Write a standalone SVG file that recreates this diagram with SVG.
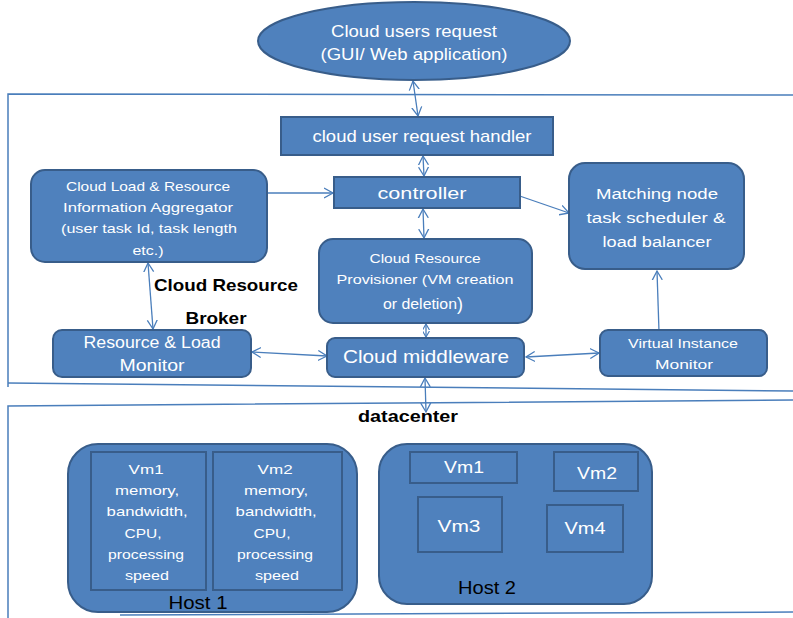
<svg xmlns="http://www.w3.org/2000/svg" width="793" height="618" viewBox="0 0 793 618">
<style>
.n{fill:#4f81bd;stroke:#385d8a;stroke-width:2}
.vm{fill:#4f81bd;stroke:#385d8a;stroke-width:2}
.t{font-family:"Liberation Sans",Arial,sans-serif;fill:#ffffff;text-anchor:middle}
.k{font-family:"Liberation Sans",Arial,sans-serif;fill:#000000;text-anchor:middle}
.b{font-weight:bold}
.c{fill:none;stroke:#4a7ebb;stroke-width:1.3}
.f{fill:none;stroke:#4a7ebb;stroke-width:1.5}
</style>
<defs>
<marker id="ah" markerUnits="userSpaceOnUse" markerWidth="12" markerHeight="12" refX="9" refY="5" orient="auto-start-reverse" viewBox="0 0 12 10">
<path d="M0,0 L9,5 L0,10" fill="none" stroke="#4a7ebb" stroke-width="1.3"/>
</marker>
<marker id="ahs" markerUnits="userSpaceOnUse" markerWidth="7" markerHeight="7" refX="6" refY="3.5" orient="auto-start-reverse" viewBox="0 0 7 7">
<path d="M0,0 L6,3.5 L0,7" fill="none" stroke="#4a7ebb" stroke-width="1.2"/>
</marker>
</defs>
<rect width="793" height="618" fill="#ffffff"/>
<g id="frames">
<path class="f" d="M8,387 L8,94 L793,95"/>
<path class="f" d="M8,383 L793,391"/>
<path class="f" d="M8,618 L8,406 L793,400"/>
<path class="f" d="M120,615 L793,612"/>
</g>
<g id="connectors">
<line class="c" x1="413" y1="81" x2="418" y2="116" marker-start="url(#ah)" marker-end="url(#ah)"/>
<line class="c" x1="423" y1="156" x2="424" y2="176" marker-start="url(#ah)" marker-end="url(#ah)"/>
<line class="c" x1="254" y1="193" x2="333" y2="193" marker-start="url(#ah)" marker-end="url(#ah)"/>
<line class="c" x1="511" y1="193" x2="569" y2="213" marker-start="url(#ah)" marker-end="url(#ah)"/>
<line class="c" x1="423" y1="209" x2="424" y2="238" marker-start="url(#ah)" marker-end="url(#ah)"/>
<line class="c" x1="426" y1="324" x2="426" y2="337" marker-start="url(#ahs)" marker-end="url(#ahs)"/>
<line class="c" x1="148" y1="263" x2="153" y2="329" marker-start="url(#ah)" marker-end="url(#ah)"/>
<line class="c" x1="252" y1="352" x2="327" y2="356" marker-start="url(#ah)" marker-end="url(#ah)"/>
<line class="c" x1="526" y1="357" x2="599" y2="353" marker-start="url(#ah)" marker-end="url(#ah)"/>
<line class="c" x1="660" y1="362" x2="657" y2="271" marker-end="url(#ah)"/>
<line class="c" x1="425" y1="378" x2="426" y2="412" marker-start="url(#ah)" marker-end="url(#ah)"/>
</g>
<g id="users">
<ellipse class="n" cx="414" cy="41" rx="156" ry="39"/>
<text class="t" x="414" y="37" font-size="16" textLength="166" lengthAdjust="spacingAndGlyphs">Cloud  users request</text>
<text class="t" x="414" y="60" font-size="16" textLength="187" lengthAdjust="spacingAndGlyphs">(GUI/ Web application)</text>
</g>
<g id="handler">
<rect class="n" x="281" y="117" width="272" height="38"/>
<text class="t" x="422" y="142" font-size="17" textLength="219" lengthAdjust="spacingAndGlyphs">cloud user request handler</text>
</g>
<g id="controller">
<rect class="n" x="334" y="177" width="186" height="31"/>
<text class="t" x="422" y="199" font-size="17" textLength="89" lengthAdjust="spacingAndGlyphs">controller</text>
</g>
<g id="aggregator">
<rect class="n" x="31" y="170" width="236" height="92" rx="14"/>
<text class="t" x="148" y="191" font-size="13.5" textLength="164" lengthAdjust="spacingAndGlyphs">Cloud Load &amp; Resource</text>
<text class="t" x="148" y="212" font-size="13.5" textLength="170" lengthAdjust="spacingAndGlyphs">Information  Aggregator</text>
<text class="t" x="149" y="233" font-size="13.5" textLength="176" lengthAdjust="spacingAndGlyphs">(user  task Id, task length</text>
<text class="t" x="148" y="255" font-size="13.5" textLength="31" lengthAdjust="spacingAndGlyphs">etc.)</text>
</g>
<g id="broker-label">
<text class="k b" x="226" y="291" font-size="17" textLength="144" lengthAdjust="spacingAndGlyphs">Cloud Resource</text>
<text class="k b" x="216" y="324" font-size="17" textLength="61" lengthAdjust="spacingAndGlyphs">Broker</text>
</g>
<g id="matching">
<rect class="n" x="569" y="163" width="175" height="106" rx="16"/>
<text class="t" x="657" y="199" font-size="15.5" textLength="122" lengthAdjust="spacingAndGlyphs">Matching node</text>
<text class="t" x="656" y="223" font-size="15.5" textLength="139" lengthAdjust="spacingAndGlyphs">task  scheduler &amp;</text>
<text class="t" x="657" y="247" font-size="15.5" textLength="109" lengthAdjust="spacingAndGlyphs">load balancer</text>
</g>
<g id="provisioner">
<rect class="n" x="319" y="239" width="213" height="84" rx="14"/>
<text class="t" x="425" y="263" font-size="13.5" textLength="111" lengthAdjust="spacingAndGlyphs">Cloud Resource</text>
<text class="t" x="425" y="284" font-size="13.5" textLength="177" lengthAdjust="spacingAndGlyphs">Provisioner (VM creation</text>
<text class="t" x="420" y="309" font-size="14" textLength="74" lengthAdjust="spacingAndGlyphs">or deletion</text>
<text class="t" x="460" y="310" font-size="18">)</text>
</g>
<g id="resource-monitor">
<rect class="n" x="53" y="330" width="198" height="47" rx="9"/>
<text class="t" x="152" y="348" font-size="16" textLength="137" lengthAdjust="spacingAndGlyphs">Resource &amp; Load</text>
<text class="t" x="152" y="371" font-size="16" textLength="65" lengthAdjust="spacingAndGlyphs">Monitor</text>
</g>
<g id="middleware">
<rect class="n" x="327" y="338" width="197" height="39" rx="8"/>
<text class="t" x="426" y="363" font-size="17.5" textLength="166" lengthAdjust="spacingAndGlyphs">Cloud middleware</text>
</g>
<g id="vim">
<rect class="n" x="600" y="330" width="167" height="46" rx="8"/>
<text class="t" x="683" y="348" font-size="13.5" textLength="110" lengthAdjust="spacingAndGlyphs">Virtual Instance</text>
<text class="t" x="684" y="369" font-size="13.5" textLength="58" lengthAdjust="spacingAndGlyphs">Monitor</text>
</g>
<g id="datacenter-label">
<text class="k b" x="408" y="422" font-size="16" textLength="100" lengthAdjust="spacingAndGlyphs">datacenter</text>
</g>
<g id="host1">
<rect class="n" x="68" y="444" width="289" height="168" rx="30"/>
<rect class="vm" x="91" y="452" width="115" height="138"/>
<rect class="vm" x="213" y="452" width="129" height="138"/>
<text class="t" font-size="13.5">
<tspan x="148" y="474" textLength="35" lengthAdjust="spacingAndGlyphs">Vm1</tspan>
<tspan x="149" y="495" textLength="64" lengthAdjust="spacingAndGlyphs">memory,</tspan>
<tspan x="149" y="516" textLength="81" lengthAdjust="spacingAndGlyphs">bandwidth,</tspan>
<tspan x="145" y="538" textLength="37" lengthAdjust="spacingAndGlyphs">CPU,</tspan>
<tspan x="148" y="559" textLength="76" lengthAdjust="spacingAndGlyphs">processing</tspan>
<tspan x="147" y="580" textLength="44" lengthAdjust="spacingAndGlyphs">speed</tspan>
</text>
<text class="t" font-size="13.5">
<tspan x="277" y="474" textLength="35" lengthAdjust="spacingAndGlyphs">Vm2</tspan>
<tspan x="278" y="495" textLength="64" lengthAdjust="spacingAndGlyphs">memory,</tspan>
<tspan x="278" y="516" textLength="81" lengthAdjust="spacingAndGlyphs">bandwidth,</tspan>
<tspan x="274" y="538" textLength="37" lengthAdjust="spacingAndGlyphs">CPU,</tspan>
<tspan x="277" y="559" textLength="76" lengthAdjust="spacingAndGlyphs">processing</tspan>
<tspan x="277" y="580" textLength="44" lengthAdjust="spacingAndGlyphs">speed</tspan>
</text>
<text class="k" x="198" y="609" font-size="18" textLength="59" lengthAdjust="spacingAndGlyphs">Host 1</text>
</g>
<g id="host2">
<rect class="n" x="379" y="444" width="273" height="160" rx="28"/>
<rect class="vm" x="410" y="452" width="107" height="31"/>
<rect class="vm" x="554" y="452" width="84" height="39"/>
<rect class="vm" x="418" y="497" width="84" height="55"/>
<rect class="vm" x="547" y="505" width="76" height="47"/>
<text class="t" x="464" y="473" font-size="17" textLength="40" lengthAdjust="spacingAndGlyphs">Vm1</text>
<text class="t" x="597" y="479" font-size="17" textLength="40" lengthAdjust="spacingAndGlyphs">Vm2</text>
<text class="t" x="459" y="532" font-size="17" textLength="43" lengthAdjust="spacingAndGlyphs">Vm3</text>
<text class="t" x="585" y="534" font-size="17" textLength="41" lengthAdjust="spacingAndGlyphs">Vm4</text>
<text class="k" x="487" y="594" font-size="18" textLength="58" lengthAdjust="spacingAndGlyphs">Host 2</text>
</g>
</svg>
